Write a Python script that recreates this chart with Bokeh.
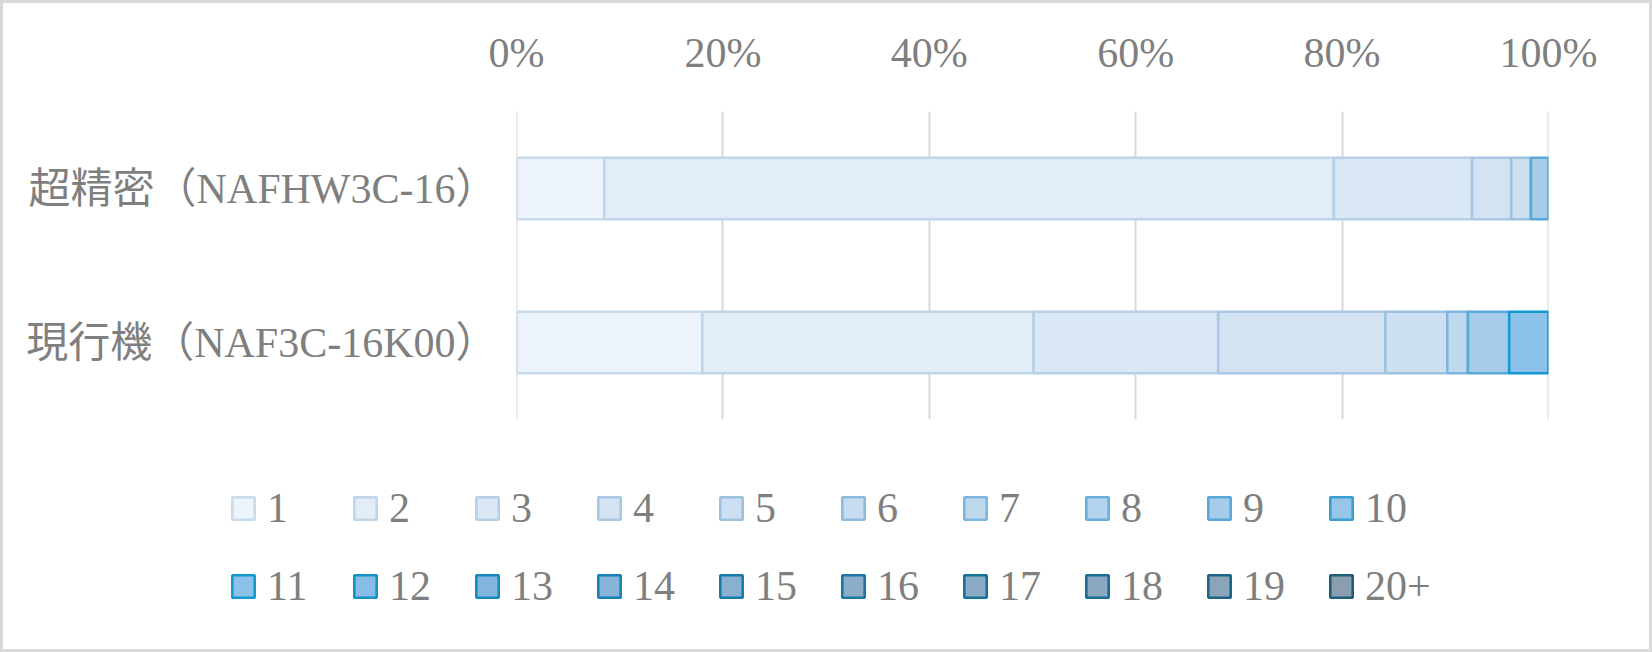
from bokeh.plotting import figure
from bokeh.layouts import column
from bokeh.models import (ColumnDataSource, FactorRange, FixedTicker, PrintfTickFormatter,
                          Legend, LegendItem, Range1d)
from bokeh.embed import file_html
from bokeh.resources import INLINE

# ---- data ----
categories = ["現行機（NAF3C-16K00）", "超精密（NAFHW3C-16）"]
series = ["1", "2", "3", "4", "5", "6", "7", "8", "9", "10",
          "11", "12", "13", "14", "15", "16", "17", "18", "19", "20+"]
values_current = [18.0, 32.1, 17.9, 16.2, 6.0, 0, 2.0, 0, 4.0, 0,
                  3.8, 0, 0, 0, 0, 0, 0, 0, 0, 0]
values_ultra = [8.5, 70.7, 13.4, 3.8, 1.9, 0, 0, 0, 1.7, 0,
                0, 0, 0, 0, 0, 0, 0, 0, 0, 0]
tick_values = [0, 20, 40, 60, 80, 100]

fill_colors = ["#edf3fa", "#e3edf7", "#dae7f4", "#d3e3f2", "#cce0f1",
               "#c6dcf0", "#bed8ee", "#b4d3ed", "#a7cce9", "#98c6e8",
               "#8cc2ea", "#86bce5", "#83b6de", "#86b3d6", "#88b0cf",
               "#8aadc8", "#8aabc6", "#8aa8c0", "#8ba5b8", "#8a9eae"]
line_colors = ["#c9dced", "#bfd5ea", "#b6d0e7", "#aac8e3", "#9dc2e0",
               "#8dbbde", "#80b6dd", "#6caedb", "#5aa8d8", "#3a9fd4",
               "#139ad0", "#1592c6", "#178ac0", "#1782b5", "#187caa",
               "#1a78a3", "#19719b", "#1a6c93", "#1c6588", "#205e7c"]

FONT = "'Liberation Serif', 'Noto Sans CJK JP', serif"
TEXT_COLOR = "#7f7f7f"
FONT_SIZE = "42px"
LINE_W = 2.6
EDGE = 3  # width of the light grey chart border

data = {"cat": categories}
for i, s in enumerate(series):
    data[s] = [values_current[i], values_ultra[i]]
source = ColumnDataSource(data)

# ---- chart ----
p = figure(width=1652 - 2 * EDGE, height=440 - EDGE, output_backend="svg",
           toolbar_location=None,
           y_range=FactorRange(factors=categories), x_range=Range1d(-0.01, 100.01),
           x_axis_location="above",
           min_border_left=516 - EDGE, min_border_right=104 - EDGE,
           min_border_top=111 - EDGE, min_border_bottom=21)
p.frame_align = False
p.outline_line_color = None
p.background_fill_color = "white"
p.border_fill_color = "white"

# stacked segments (zero-width segments are not drawn)
cum = [0.0] * len(categories)
for i, s in enumerate(series):
    vals = [values_current[i], values_ultra[i]]
    keep = [k for k, v in enumerate(vals) if v > 0]
    seg = ColumnDataSource(dict(
        cat=[categories[k] for k in keep],
        left=[cum[k] for k in keep],
        right=[cum[k] + vals[k] for k in keep],
    ))
    p.hbar(y="cat", left="left", right="right", height=0.4, source=seg,
           fill_color=fill_colors[i], line_color=line_colors[i], line_width=LINE_W)
    cum = [c + v for c, v in zip(cum, vals)]

xa = p.xaxis[0]
xa.ticker = FixedTicker(ticks=tick_values)
xa.formatter = PrintfTickFormatter(format="%d%%")
xa.axis_line_color = None
xa.major_tick_line_color = None
xa.minor_tick_line_color = None
xa.major_tick_out = 0
xa.major_label_standoff = 36
xa.major_label_text_font = FONT
xa.major_label_text_font_size = FONT_SIZE
xa.major_label_text_color = TEXT_COLOR

ya = p.yaxis[0]
ya.axis_line_color = None
ya.major_tick_line_color = None
ya.minor_tick_line_color = None
ya.major_tick_out = 0
ya.major_label_standoff = 19
ya.major_label_text_font = FONT
ya.major_label_text_font_size = FONT_SIZE
ya.major_label_text_color = TEXT_COLOR

p.xgrid.grid_line_color = "#d9d9d9"
p.xgrid.grid_line_width = 2
p.ygrid.grid_line_color = None

# ---- legend strip (two rows of ten) ----
lp = figure(width=1652 - 2 * EDGE, height=212 - EDGE, output_backend="svg",
            toolbar_location=None, x_axis_type=None, y_axis_type=None,
            x_range=Range1d(0, 100), y_range=FactorRange(factors=categories),
            min_border_left=0, min_border_right=0, min_border_top=0, min_border_bottom=0)
lp.frame_align = False
lp.outline_line_color = None
lp.background_fill_color = "white"
lp.border_fill_color = "white"

# hidden copies of the stacked bars, used only as legend glyph sources
legend_renderers = lp.hbar_stack(series, y="cat", height=0.4, source=source,
                                 fill_color=fill_colors, line_color=line_colors,
                                 line_width=LINE_W)
for r in legend_renderers:
    r.visible = False

items = [LegendItem(label=s, renderers=[r]) for s, r in zip(series, legend_renderers)]
for row, loc in ((items[:10], (229 - EDGE, 119 - EDGE)), (items[10:], (229 - EDGE, 41 - EDGE))):
    lg = Legend(items=row, orientation="horizontal", location=loc,
                glyph_width=28, glyph_height=28, label_standoff=10,
                label_width=76, label_height=50, spacing=8, padding=0, margin=0,
                border_line_color=None, background_fill_alpha=0,
                label_text_font=FONT, label_text_font_size=FONT_SIZE,
                label_text_color=TEXT_COLOR)
    lp.add_layout(lg)

inner = column(p, lp, spacing=0, margin=(EDGE, EDGE, EDGE, EDGE))
inner.styles = {"background-color": "white"}
layout = column(inner, spacing=0)
layout.styles = {"background-color": "#d9d9d9"}

open("out.html", "w").write(file_html(layout, INLINE))
